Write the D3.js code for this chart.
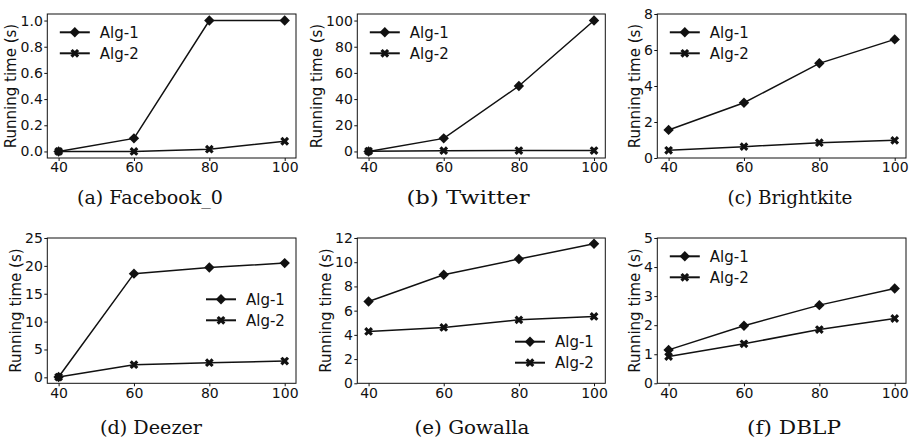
<!DOCTYPE html>
<html>
<head>
<meta charset="utf-8">
<script src="https://cdn.jsdelivr.net/npm/d3@7"></script>
<style>
body { margin: 0; background: #fff; }
</style>
</head>
<body>
<svg></svg>
<script>
// x values shared by all panels
const xVals = [40, 60, 80, 100];

// running times
const facebookAlg1 = [0.0, 0.1, 1.0, 1.0];
const facebookAlg2 = [0.0, 0.0, 0.017, 0.078];
const twitterAlg1 = [0, 10, 50, 100];
const twitterAlg2 = [0.2, 0.6, 0.7, 0.7];
const brightkiteAlg1 = [1.56, 3.07, 5.26, 6.59];
const brightkiteAlg2 = [0.43, 0.63, 0.85, 0.98];
const deezerAlg1 = [0.05, 18.6, 19.7, 20.5];
const deezerAlg2 = [0.05, 2.26, 2.62, 2.92];
const gowallaAlg1 = [6.76, 8.97, 10.26, 11.53];
const gowallaAlg2 = [4.28, 4.61, 5.24, 5.52];
const dblpAlg1 = [1.15, 1.98, 2.69, 3.26];
const dblpAlg2 = [0.92, 1.36, 1.85, 2.23];

// y tick values
const facebookTicks = [0, 0.2, 0.4, 0.6, 0.8, 1.0];
const twitterTicks = [0, 20, 40, 60, 80, 100];
const brightkiteTicks = [0, 2, 4, 6, 8];
const deezerTicks = [0, 5, 10, 15, 20, 25];
const gowallaTicks = [0, 2, 4, 6, 8, 10, 12];
const dblpTicks = [0, 1, 2, 3, 4, 5];

const captions = ["(a) Facebook_0", "(b) Twitter", "(c) Brightkite", "(d) Deezer", "(e) Gowalla", "(f) DBLP"];
const seriesNames = ["Alg-1", "Alg-2"];
const yLabel = "Running time (s)";

var width = 913;
var height = 437;
var svg = d3.select("svg").attr("width", width).attr("height", height);

// layout of the six panels
var cols = [[47.3, 296], [357.3, 605.3], [657.3, 906]];
var rows = [[14, 158], [238, 383.3]];

var panels = [
  {a1: facebookAlg1, a2: facebookAlg2, ticks: facebookTicks, dom: [-0.05, 1.05], fmt: ".1f", c: 0, r: 0, leg: [12.5, 18.3], cap: [150, 146]},
  {a1: twitterAlg1, a2: twitterAlg2, ticks: twitterTicks, dom: [-5, 105], fmt: "d", c: 1, r: 0, leg: [12.5, 18.3], cap: [468, 123]},
  {a1: brightkiteAlg1, a2: brightkiteAlg2, ticks: brightkiteTicks, dom: [0, 8], fmt: "d", c: 2, r: 0, leg: [12.5, 18.3], cap: [790, 125]},
  {a1: deezerAlg1, a2: deezerAlg2, ticks: deezerTicks, dom: [-1.07, 25], fmt: "d", c: 0, r: 1, leg: [158.7, 61.3], cap: [151, 102]},
  {a1: gowallaAlg1, a2: gowallaAlg2, ticks: gowallaTicks, dom: [0, 12], fmt: "d", c: 1, r: 1, leg: [157.7, 103.7], cap: [472, 115]},
  {a1: dblpAlg1, a2: dblpAlg2, ticks: dblpTicks, dom: [0, 5], fmt: "d", c: 2, r: 1, leg: [12.5, 18.3], cap: [794, 94]}
];
var capBaselines = [204, 433.5];

var ink = "#111";
var diamond = d3.symbol().type(d3.symbolSquare).size(54);
var cross = d3.symbol().type(d3.symbolCross).size(48);
var markers = [diamond, cross];

panels.forEach((p, i) => {
  var left = cols[p.c][0], right = cols[p.c][1];
  var top = rows[p.r][0], bottom = rows[p.r][1];

  //Create the scales
  let xScale = d3.scaleLinear().domain([37, 103]).range([left, right]);
  let yScale = d3.scaleLinear().domain(p.dom).range([bottom, top]);

  var g = svg.append("g");

  // Axes
  let x_Axis = d3.axisBottom(xScale).tickValues(xVals).tickSize(3).tickPadding(1.5).tickFormat(d3.format("d"));
  let y_Axis = d3.axisLeft(yScale).tickValues(p.ticks).tickSize(3).tickPadding(1.5).tickFormat(d3.format(p.fmt));

  var xg = g.append("g").attr("transform", "translate(0," + bottom + ")").call(x_Axis);
  var yg = g.append("g").attr("transform", "translate(" + left + ",0)").call(y_Axis);
  [xg, yg].forEach(a => {
    a.select(".domain").remove();
    a.selectAll("line").attr("stroke", ink);
    a.selectAll("text").attr("fill", ink).style("font-family", "DejaVu Sans").style("font-size", "14px");
  });

  // y label next to the widest tick label
  var maxW = 0;
  yg.selectAll("text").each(function() { maxW = Math.max(maxW, this.getBBox().width); });
  var lx = left - 4.5 - maxW - 4;
  g.append("text")
    .attr("transform", "translate(" + lx + "," + ((top + bottom) / 2) + ") rotate(-90)")
    .attr("text-anchor", "middle")
    .attr("fill", ink)
    .style("font-family", "DejaVu Sans").style("font-size", "15px")
    .text(yLabel);

  // Lines and markers
  [p.a1, p.a2].forEach((vals, k) => {
    var line = d3.line().x((d, j) => xScale(xVals[j])).y(d => yScale(d));
    g.append("path").datum(vals)
      .attr("d", line).attr("fill", "none").attr("stroke", ink).attr("stroke-width", 1.5);
    g.selectAll(".m" + k).data(vals).enter().append("path")
      .attr("class", "m" + k)
      .attr("d", markers[k])
      .attr("transform", (d, j) => "translate(" + xScale(xVals[j]) + "," + yScale(d) + ") rotate(45)")
      .attr("fill", ink);
  });

  // Frame
  g.append("rect")
    .attr("x", left).attr("y", top)
    .attr("width", right - left).attr("height", bottom - top)
    .attr("fill", "none").attr("stroke", ink).attr("stroke-width", 1);

  // Legend
  seriesNames.forEach((name, k) => {
    var lx0 = left + p.leg[0];
    var ly = top + p.leg[1] + k * 21;
    g.append("line").attr("x1", lx0).attr("x2", lx0 + 30).attr("y1", ly).attr("y2", ly)
      .attr("stroke", ink).attr("stroke-width", 2);
    g.append("path").attr("d", markers[k])
      .attr("transform", "translate(" + (lx0 + 15) + "," + ly + ") rotate(45)")
      .attr("fill", ink);
    g.append("text").attr("x", lx0 + 40).attr("y", ly).attr("dy", "0.36em")
      .attr("fill", ink)
      .style("font-family", "DejaVu Sans").style("font-size", "15px")
      .text(name);
  });

  // Caption
  svg.append("text")
    .attr("x", p.cap[0]).attr("y", capBaselines[p.r])
    .attr("text-anchor", "middle")
    .attr("textLength", p.cap[1]).attr("lengthAdjust", "spacingAndGlyphs")
    .attr("fill", ink)
    .style("font-family", "DejaVu Serif").style("font-size", "18px")
    .text(captions[i]);
});
</script>
</body>
</html>
